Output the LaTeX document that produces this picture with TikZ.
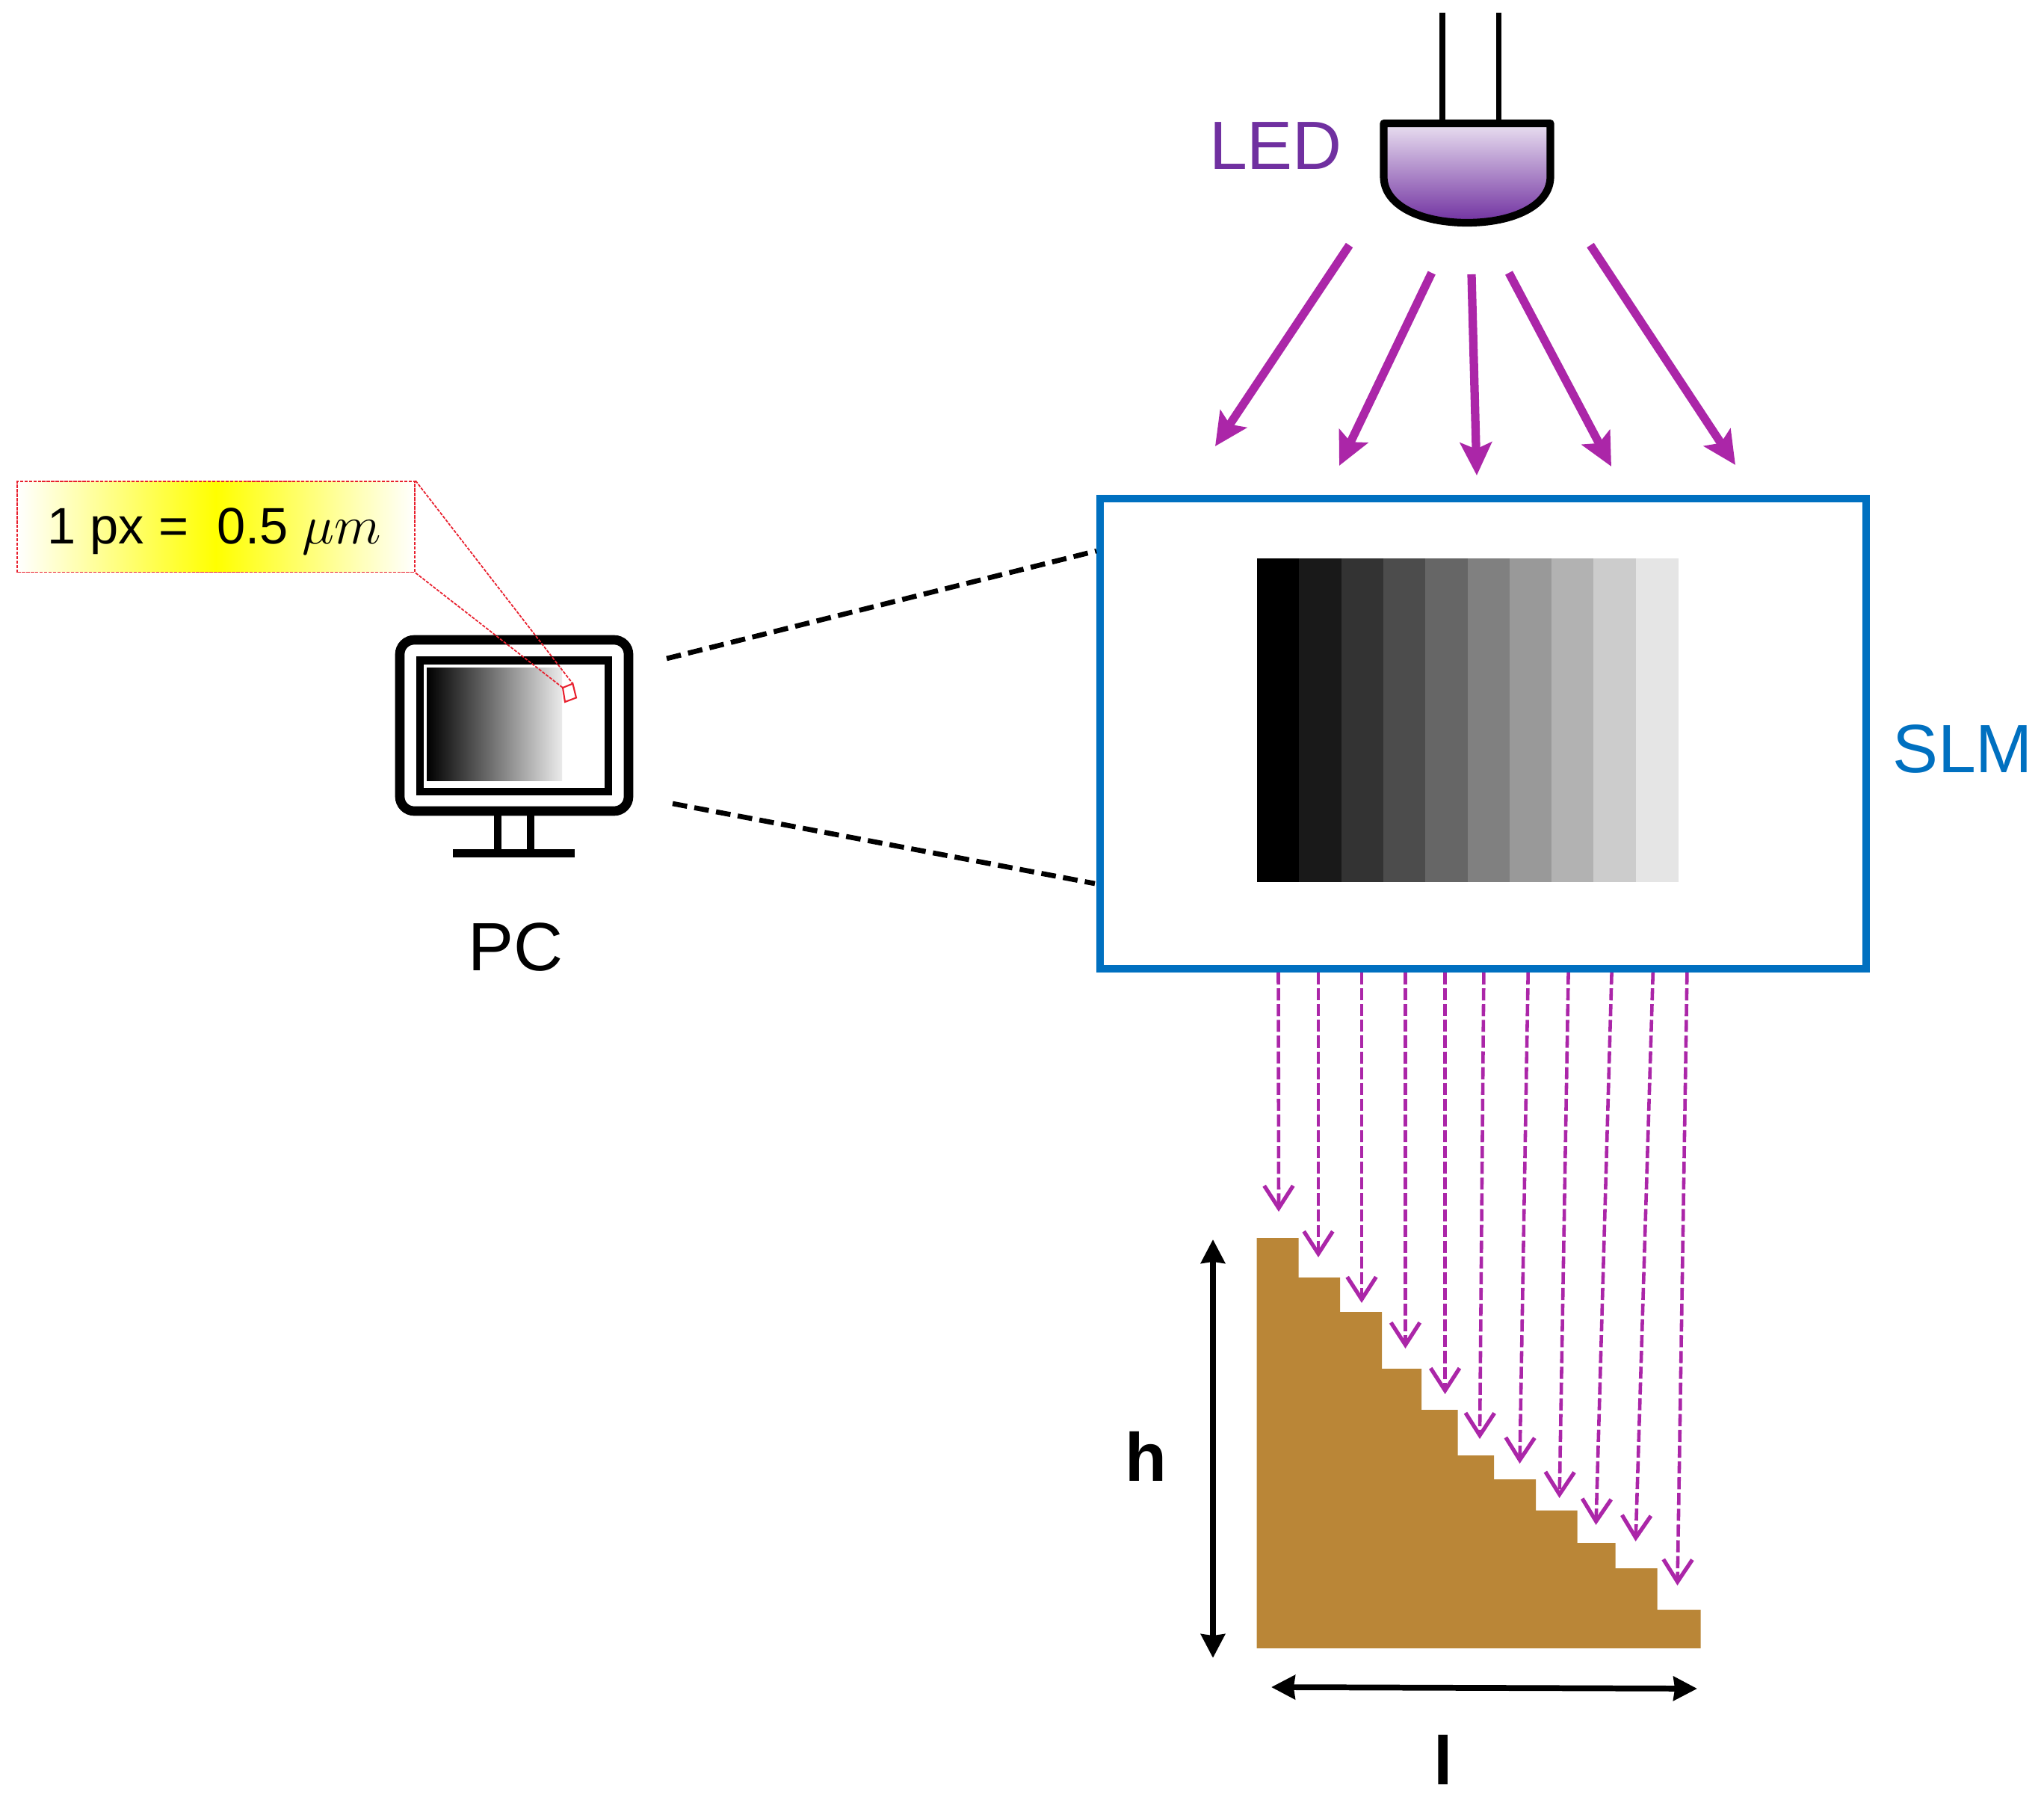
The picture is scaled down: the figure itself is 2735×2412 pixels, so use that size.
\documentclass[tikz,border=0pt]{standalone}
\usepackage{fontspec}
\setmainfont{Liberation Sans}
\usepackage{tikz}
\usetikzlibrary{arrows.meta,positioning,calc}
\definecolor{ledpurple}{HTML}{7030A0}
\definecolor{raypurple}{HTML}{AB26A8}
\definecolor{slmblue}{HTML}{0070C0}
\definecolor{stairbrown}{HTML}{BA8637}
\definecolor{tagred}{HTML}{E8202E}
\begin{document}
\begin{tikzpicture}[x=0.01cm, y=-0.01cm,
  labelplain/.style={font=\fontsize{26}{30}\selectfont, anchor=base, inner sep=0pt},
  labelbold/.style={font=\fontsize{26}{30}\selectfont\bfseries, anchor=base, inner sep=0pt},
  lightray/.style={raypurple, line width=3.2pt, -{Stealth[length=12.5pt,width=12pt,inset=2.5pt]}},
  stairray/.style={raypurple, line width=1.3pt, dash pattern=on 4.6pt off 1.4pt, -{Straight Barb[length=8.5pt,width=11pt,line width=1.5pt]}},
  zoomline/.style={black, line width=1.9pt, dash pattern=on 5.6pt off 2.8pt},
  tagline/.style={tagred, line width=0.5pt, dash pattern=on 1.2pt off 0.5pt},
  dimarrow/.style={black, line width=2.2pt, {Stealth[length=9pt,width=9pt,inset=0.5pt]}-{Stealth[length=9pt,width=9pt,inset=0.5pt]}}]
  \useasboundingbox (0,0) rectangle (2735,2412);
  % LED
  \draw[line width=2pt] (1930,17) -- (1930,165);
  \draw[line width=2pt] (2005,17) -- (2005,165);
  \draw[line width=2.9pt, top color=ledpurple!15, bottom color=ledpurple, line join=round]
    (1851.5,165) -- (2074.5,165) -- (2074.5,236)
    .. controls (2074.5,275) and (2025,298) .. (1963,298)
    .. controls (1901,298) and (1851.5,275) .. (1851.5,236) -- cycle;
  \node[labelplain, text=ledpurple] (ledlabel) at (1707,227) {LED};
  % rays from the LED
  \foreach \sx/\sy/\tx/\ty [count=\i] in {1805.5/328/1626/597, 1915.7/365/1792/623, 1969/367/1976/636, 2019/365/2156/624, 2128/328/2322/622}{
    \coordinate (ledray\i) at (\sx,\sy);
    \coordinate (ledtip\i) at (\tx,\ty);
    \draw[lightray] (ledray\i) -- (ledtip\i);
  }
  % SLM
  \node[draw=slmblue, line width=2.8pt, minimum width=10.243cm, minimum height=6.29cm, inner sep=0pt] (slm) at (1984.85,981.5) {};
  \node[labelplain, text=slmblue] (slmlabel) at (2626,1033) {SLM};
  \foreach \i in {0,...,9}{
    \pgfmathsetmacro{\barx}{1682+56.3*\i}
    \pgfmathsetmacro{\barshade}{100-10*\i}
    \fill[black!\barshade] (\barx,747) rectangle (\barx+57.3,1180);
  }
  % PC
  \draw[line width=3.6pt, rounded corners=5.5pt] (535,856) rectangle (841,1085);
  \draw[line width=3pt] (562,883.5) rectangle (814,1059);
  \shade[left color=black, right color=black!8] (571,893) rectangle (752,1044);
  \draw[line width=2.7pt] (666,1091) -- (666,1138);
  \draw[line width=2.7pt] (710,1091) -- (710,1138);
  \draw[line width=3pt] (606,1141.5) -- (769,1141.5);
  \node[labelplain] (pclabel) at (690,1298) {PC};
  % dashed lines PC to SLM
  \coordinate (pctop) at (892,881);
  \coordinate (slmtop) at (1467,737);
  \coordinate (pcbot) at (900,1075);
  \coordinate (slmbot) at (1465,1182);
  \draw[zoomline] (pctop) -- (slmtop);
  \draw[zoomline] (pcbot) -- (slmbot);
  % pixel tag
  \node[draw=tagred, line width=0.5pt, dash pattern=on 1.2pt off 0.5pt, left color=white, right color=white, middle color=yellow,
    minimum width=5.315cm, minimum height=1.215cm, inner sep=0pt] (tag) at (289.25,704.75) {};
  \node[font=\fontsize{19.5}{24}\selectfont, anchor=base, inner sep=0pt] (taglabel) at (287,727) {1 px =\ \ 0.5 $\mu m$};
  \coordinate (pixa) at (753,920);
  \coordinate (pixb) at (766.4,914.6);
  \coordinate (pixc) at (771,933.4);
  \coordinate (pixd) at (756,939);
  \draw[tagred, line width=0.6pt] (pixa) -- (pixb) -- (pixc) -- (pixd) -- cycle;
  \draw[tagline] (tag.north east) -- (pixb);
  \draw[tagline] (tag.south east) -- (pixa);
  % stair
  \fill[stairbrown] (1681.5,1656) -- (1737.5,1656) -- (1737.5,1709) -- (1793,1709) -- (1793,1755) -- (1849,1755) -- (1849,1831)
    -- (1902,1831) -- (1902,1886) -- (1950.6,1886) -- (1950.6,1947) -- (1999,1947) -- (1999,1979) -- (2055,1979) -- (2055,2020.5)
    -- (2110.6,2020.5) -- (2110.6,2064) -- (2161.6,2064) -- (2161.6,2098) -- (2217.6,2098) -- (2217.6,2153.6) -- (2275.6,2153.6)
    -- (2275.6,2205) -- (1681.5,2205) -- cycle;
  % rays from the SLM to the stair
  \foreach \sx/\tx/\ty [count=\i] in {1710.5/1711/1621, 1764/1764/1682, 1822/1822/1743, 1880.5/1880.5/1804, 1933.6/1933.6/1865, 1985.4/1980/1925, 2044.7/2033.5/1958, 2098.6/2086.6/2004, 2156.6/2135.5/2040, 2211.8/2188.6/2062, 2257.4/2244.5/2121}{
    \coordinate (stairray\i) at (\sx,1301);
    \coordinate (stairtip\i) at (\tx,\ty);
    \draw[stairray] (stairray\i) -- (stairtip\i);
  }
  % dimensions
  \coordinate (htop) at (1623,1658);
  \coordinate (hbot) at (1623,2218);
  \coordinate (lleft) at (1701,2257);
  \coordinate (lright) at (2271,2259);
  \draw[dimarrow] (htop) -- (hbot);
  \draw[dimarrow] (lleft) -- (lright);
  \node[labelbold] (hlabel) at (1533,1981) {h};
  \node[labelbold] (llabel) at (1931.5,2387) {l};
\end{tikzpicture}
\end{document}
